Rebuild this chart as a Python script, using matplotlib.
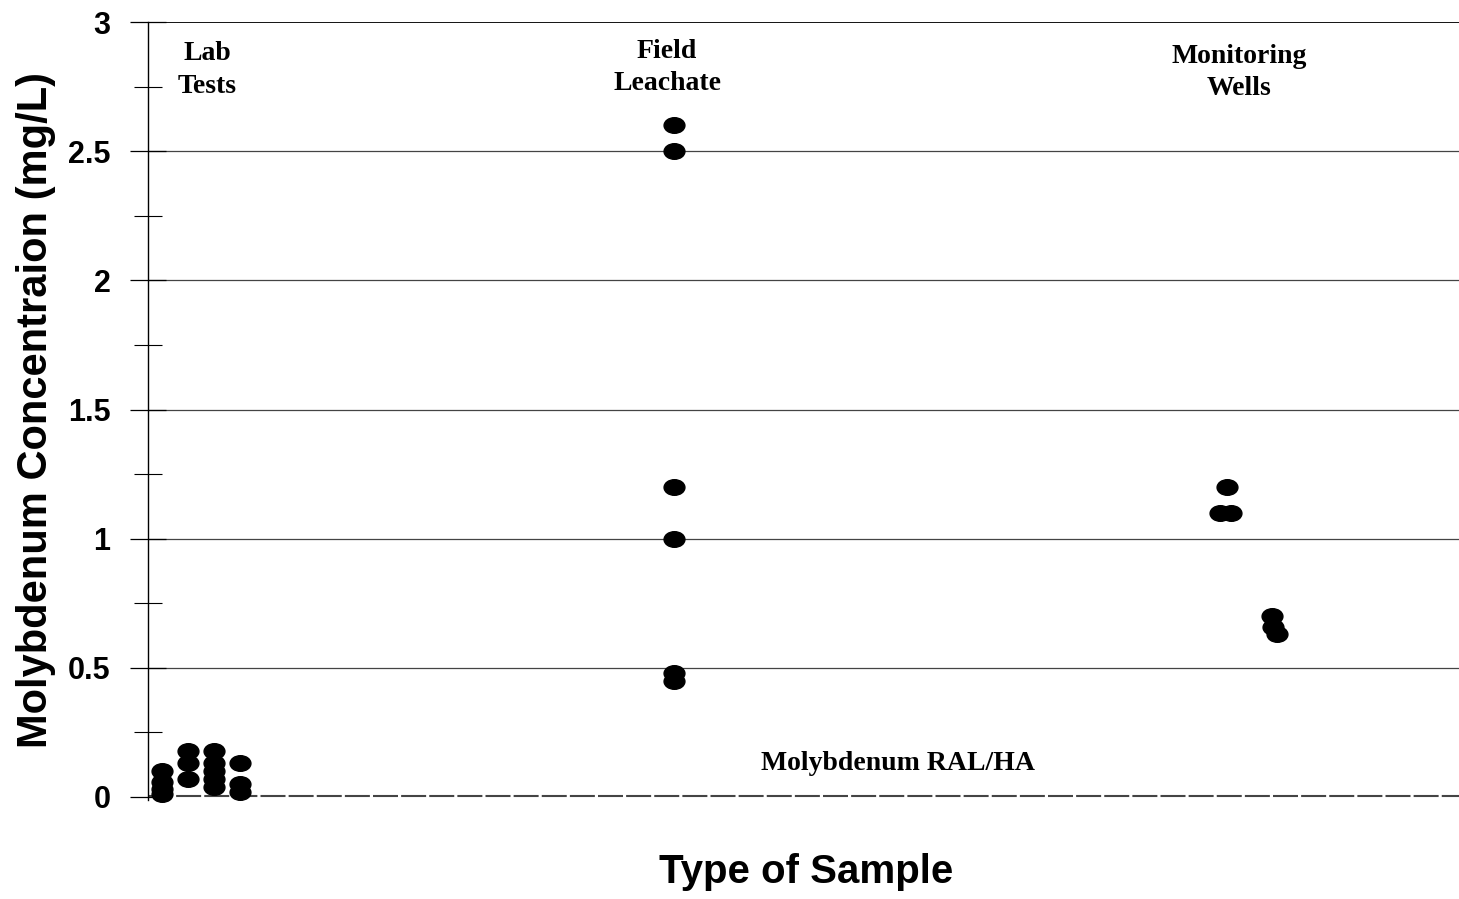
import matplotlib
matplotlib.use("Agg")
import matplotlib.pyplot as plt
from matplotlib.path import Path
from matplotlib.ticker import MultipleLocator
import numpy as np

# Data (x positions are categorical slot positions on a 0-100 scale)
lab_x = [1.1] * 4 + [3.05] * 3 + [5.0] * 5 + [7.0] * 3
lab_y = [0.10, 0.06, 0.03, 0.01,
         0.18, 0.13, 0.07,
         0.18, 0.13, 0.10, 0.07, 0.04,
         0.13, 0.05, 0.02]
field_x = [40.1] * 6
field_y = [2.6, 2.5, 1.2, 1.0, 0.48, 0.45]
well_x = [82.3, 81.8, 82.6, 85.7, 85.8, 86.1]
well_y = [1.2, 1.1, 1.1, 0.70, 0.66, 0.63]
ral_value = 0.003

group_labels = ["Lab\nTests", "Field\nLeachate", "Monitoring\nWells"]
group_label_x = [4.5, 39.6, 83.2]
group_label_y = [2.815, 2.824, 2.805]

yticks = [0, 0.5, 1, 1.5, 2, 2.5, 3]
ytick_labels = ["0", "0.5", "1", "1.5", "2", "2.5", "3"]

fig = plt.figure(figsize=(14.59, 8.99), dpi=100)
ax = fig.add_axes([148 / 1459, (899 - 797) / 899, (1459 - 148) / 1459, 775 / 899])

# ellipse marker
circ = Path.unit_circle()
ell = Path(circ.vertices * np.array([1.0, 0.75]), circ.codes)

for xs, ys in [(lab_x, lab_y), (field_x, field_y), (well_x, well_y)]:
    ax.plot(xs, ys, linestyle="none", marker=ell, markersize=15,
            color="black", clip_on=False, zorder=3)

ax.set_xlim(0, 100)
ax.set_ylim(0, 3)

for v in yticks[1:-1]:
    ax.axhline(v, color="#444444", linewidth=0.9, zorder=1)
ax.axhline(3, color="black", linewidth=1.3, zorder=1)
ax.axhline(ral_value, color="#444444", linewidth=1.5, linestyle=(0, (12, 1.5)),
           zorder=2, clip_on=False)

for s in ["top", "right", "bottom"]:
    ax.spines[s].set_visible(False)
ax.spines["left"].set_linewidth(1.0)
ax.spines["left"].set_bounds(-0.01, 3)

ax.set_xticks([])
ax.set_yticks(yticks)
ax.set_yticklabels(ytick_labels)
ax.yaxis.set_minor_locator(MultipleLocator(0.25))
ax.tick_params(axis="y", which="major", direction="inout", length=26, width=0.9,
               pad=14, labelsize=22)
ax.tick_params(axis="y", which="minor", direction="inout", length=20, width=0.8)
for lab in ax.get_yticklabels():
    lab.set_fontweight("bold")
    lab.set_family("Liberation Sans")

ax.set_ylabel("Molybdenum Concentraion (mg/L)", fontsize=30, fontweight="bold",
              family="Liberation Sans")
ax.yaxis.label.set_va("center")
ax.yaxis.set_label_coords((36 - 148) / 1311, 0.5)
fig.text((806) / 1459, 27 / 899, "Type of Sample", fontsize=29, fontweight="bold",
         family="Liberation Sans", ha="center", va="center")

for t, x, y in zip(group_labels, group_label_x, group_label_y):
    ax.text(x, y, t, ha="center", va="center", fontsize=20, fontweight="bold",
            family="Liberation Serif", linespacing=1.4)

ax.text(57.2, 0.13, "Molybdenum RAL/HA", ha="center", va="center", fontsize=20,
        fontweight="bold", family="Liberation Serif")

fig.savefig("out.png", dpi=100)
